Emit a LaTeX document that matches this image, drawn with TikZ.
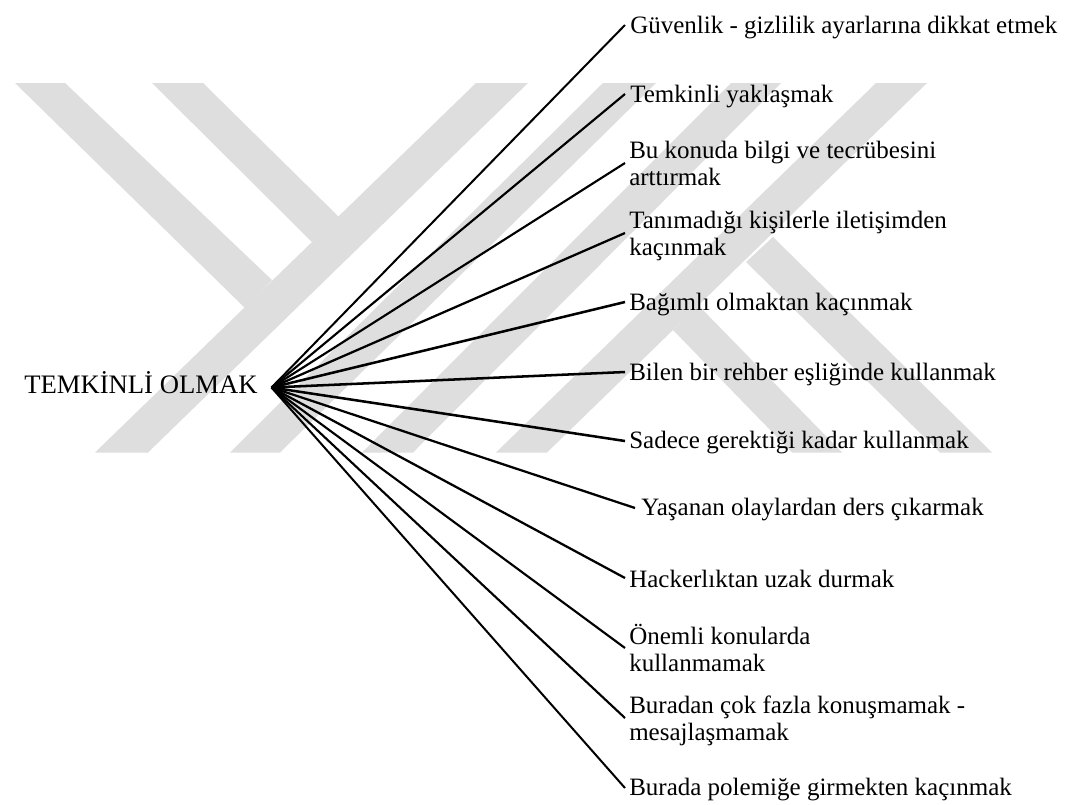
\documentclass[tikz,border=0pt]{standalone}
\usepackage{fontspec}
\setmainfont{Liberation Serif}
\tikzset{x=0.75pt,y=-0.75pt,
 lbl/.style={inner sep=0pt,anchor=base west,align=left,font=\fontsize{18.75pt}{20.25pt}\selectfont},
 spoke/.style={black},
 wm/.style={fill=black!13,draw=none}}
\begin{document}
\begin{tikzpicture}
\useasboundingbox (0,0) rectangle (1088,804);
\fill[white] (0,0) rectangle (1088,804);
% watermark
\fill[wm] (15,83)--(65,83)--(272,280)--(245,308)--cycle;
\fill[wm] (152,83)--(203,83)--(339,217)--(312,242)--cycle;
\fill[wm] (476,83)--(528,83)--(148,452.5)--(95,452.5)--cycle;
\fill[wm] (603,83)--(656,83)--(280,452.5)--(230,452.5)--cycle;
\fill[wm] (731,83)--(781,83)--(413,452.5)--(362,452.5)--cycle;
\fill[wm] (876,83)--(927,83)--(547,452.5)--(496,452.5)--cycle;
\fill[wm] (773,237)--(992,452.5)--(940,452.5)--(746,262)--cycle;
\fill[wm] (698,305)--(842,452.5)--(792,452.5)--(673,330)--cycle;
\coordinate (o) at (271.5,387.5);
\node[lbl,font=\fontsize{20pt}{21pt}\selectfont] (root) at (24,393.5) {TEMKİNLİ OLMAK};
\node[lbl] (a1) at (630,33) {Güvenlik - gizlilik ayarlarına dikkat etmek};
\node[lbl] (a2) at (630,102) {Temkinli yaklaşmak};
\node[lbl] (a3) at (629,185) {Bu konuda bilgi ve tecrübesini\\arttırmak};
\node[lbl] (a4) at (629,255) {Tanımadığı kişilerle iletişimden\\kaçınmak};
\node[lbl] (a5) at (629,310) {Bağımlı olmaktan kaçınmak};
\node[lbl] (a6) at (629,380) {Bilen bir rehber eşliğinde kullanmak};
\node[lbl] (a7) at (629,448) {Sadece gerektiği kadar kullanmak};
\node[lbl] (a8) at (641,515) {Yaşanan olaylardan ders çıkarmak};
\node[lbl] (a9) at (629,587) {Hackerlıktan uzak durmak};
\node[lbl] (a10) at (629,671) {Önemli konularda\\kullanmamak};
\node[lbl] (a11) at (629,740) {Buradan çok fazla konuşmamak -\\mesajlaşmamak};
\node[lbl] (a12) at (629,795) {Burada polemiğe girmekten kaçınmak};
\foreach \e/\xx/\yy/\w in {1/625/25/1.5,2/625/94/1.6,3/625/163/1.6,4/625/233/1.7,5/625/302/1.9,6/625/372/1.9,7/625/441/1.9,8/635/508/1.7,9/625/578/1.7,10/625/648/1.6,11/625/718/1.6,12/625/788/1.5}{
 \coordinate (e\e) at (\xx,\yy);
 \draw[spoke,line width=\w pt] (o)--(e\e);
}
\end{tikzpicture}
\end{document}
